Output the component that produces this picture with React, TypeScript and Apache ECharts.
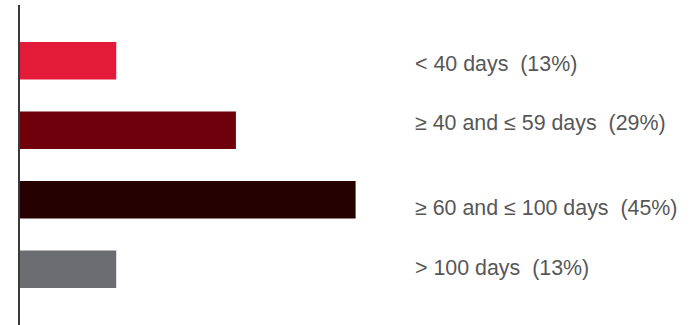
import React, { useEffect, useRef } from "react";
import * as echarts from "echarts";

const categories = ["< 40 days", "≥ 40 and ≤ 59 days", "≥ 60 and ≤ 100 days", "> 100 days"];
const shares = [13, 29, 45, 13];
const barColors = ["#E31B38", "#6F000B", "#250101", "#6C6D70"];
const labelNudge = [3, -7, 8, -1];

export default function App() {
  const ref = useRef<HTMLDivElement>(null);
  useEffect(() => {
    if (!ref.current) return;
    const chart = echarts.init(ref.current, undefined, { renderer: "svg" });
    const rich: Record<string, any> = {};
    labelNudge.forEach((n, i) => {
      rich["l" + i] = {
        fontFamily: "'Liberation Sans', Arial, sans-serif",
        fontSize: 21.4,
        color: "#575757",
        padding: n >= 0 ? [2 * n, 0, 0, 0] : [0, 0, -2 * n, 0],
      };
    });
    chart.setOption({
      animation: false,
      backgroundColor: "#ffffff",
      grid: { left: 19, top: 26, width: 374, height: 278 },
      xAxis: {
        type: "value",
        min: 0,
        max: 50,
        show: false,
      },
      yAxis: [
        {
          type: "category",
          data: categories,
          inverse: true,
          position: "right",
          axisLine: { show: false },
          axisTick: { show: false },
          axisLabel: {
            margin: 22,
            align: "left",
            formatter: (v: string, i: number) => `{l${i}|${v}  (${shares[i]}%)}`,
            rich,
          },
        },
      ],
      series: [
        {
          type: "bar",
          barWidth: 37.5,
          data: shares.map((v, i) => ({ value: v, itemStyle: { color: barColors[i] } })),
        },
      ],
      graphic: [
        {
          type: "line",
          z: 100,
          shape: { x1: 19, y1: 5, x2: 19, y2: 325 },
          style: { stroke: "#3a3a3a", lineWidth: 2 },
        },
      ],
    });
    return () => chart.dispose();
  }, []);
  return (
    <div
      ref={ref}
      style={{ position: "fixed", left: 0, top: 0, width: 695, height: 325, background: "#fff" }}
    />
  );
}
